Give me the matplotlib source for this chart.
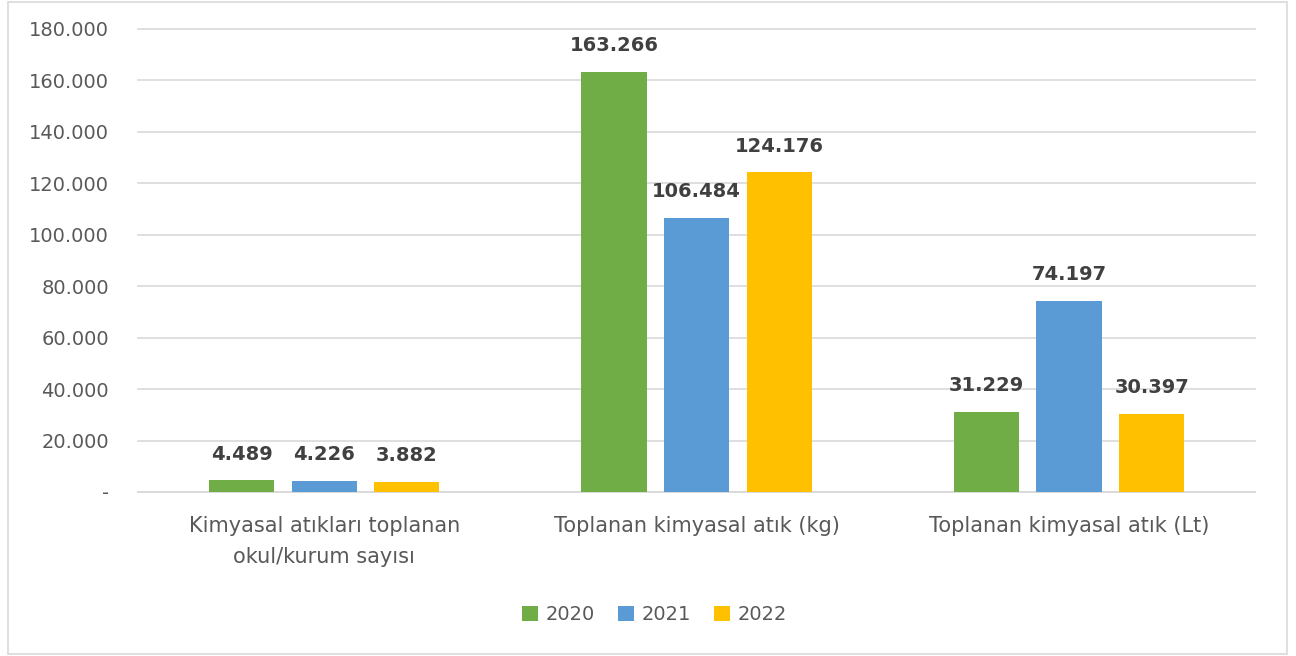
import numpy as np
import matplotlib.pyplot as plt
from matplotlib.patches import Rectangle

kategoriler = ['Kimyasal atıkları toplanan\nokul/kurum sayısı',
               'Toplanan kimyasal atık (kg)',
               'Toplanan kimyasal atık (Lt)']
yillar = ['2020', '2021', '2022']
v2020 = [4489, 163266, 31229]
v2021 = [4226, 106484, 74197]
v2022 = [3882, 124176, 30397]
renkler = ['#70AD47', '#5B9BD5', '#FFC000']

def fmt(v):
    # nokta binlik ayirici
    return '{:,}'.format(int(v)).replace(',', '.')

fig = plt.figure(figsize=(12.96, 6.56), dpi=100)
fig.patches.append(Rectangle((0.006, 0.003), 0.987, 0.994, transform=fig.transFigure,
                             fill=False, edgecolor='#D9D9D9', linewidth=1.2))
ax = fig.add_axes([0.1065, 0.25, 0.862, 0.706])

x = np.arange(len(kategoriler))
w = 0.175
step = 0.222
for i, (vals, yil) in enumerate(zip([v2020, v2021, v2022], yillar)):
    bars = ax.bar(x + (i - 1) * step, vals, w, color=renkler[i], label=yil, zorder=3)
    for b, v in zip(bars, vals):
        ax.text(b.get_x() + b.get_width() / 2, v + 6500, fmt(v), ha='center', va='bottom',
                fontsize=14, fontweight='bold', color='#404040')

ax.set_xlim(-0.5, 2.5)
ax.set_ylim(0, 180000)
yt = np.arange(0, 180001, 20000)
ax.set_yticks(yt)
ax.set_yticklabels(['-'] + [fmt(t) for t in yt[1:]], fontsize=14, color='#595959')
ax.set_xticks(x)
ax.set_xticklabels(kategoriler, fontsize=15, color='#595959', linespacing=1.7)
ax.tick_params(length=0)
ax.tick_params(axis='y', pad=21)
ax.tick_params(axis='x', pad=17)
ax.grid(axis='y', color='#D9D9D9', linewidth=1.2, zorder=0)
for gl in ax.get_ygridlines():
    gl.set_clip_on(False)
for s in ['top', 'right', 'left']:
    ax.spines[s].set_visible(False)
ax.spines['bottom'].set_color('#D9D9D9')
ax.spines['bottom'].set_linewidth(1.2)

fig.legend(loc='center', bbox_to_anchor=(0.505, 0.0625), ncol=3, frameon=False,
           fontsize=14, handlelength=0.8, handleheight=0.8, columnspacing=1.2,
           handletextpad=0.4, labelcolor='#595959')

plt.savefig('out.png', dpi=100)
